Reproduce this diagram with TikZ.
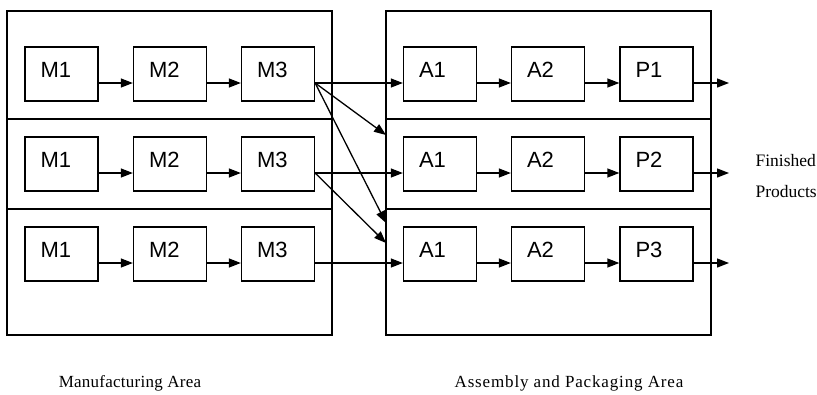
\documentclass[tikz,border=0pt]{standalone}
\usepackage{fontspec}
\setmainfont{Liberation Serif}
\newfontfamily\boxfont{Liberation Sans}
\usetikzlibrary{arrows.meta}
\begin{document}
\begin{tikzpicture}[x=1pt,y=-1pt,
  area/.style={draw,line width=1.3pt,minimum width=325pt,minimum height=324pt,inner sep=0pt},
  divider/.style={line width=1.3pt},
  stage/.style={draw,line width=1.3pt,minimum width=73pt,minimum height=54pt,
    text width=42pt,inner xsep=15.5pt,inner ysep=0pt,align=left,
    font=\boxfont\fontsize{22}{22}\selectfont,text height=10.5pt,text depth=4pt},
  flow/.style={line width=1.3pt,-{Triangle[length=12pt,width=9pt]}},
]
\useasboundingbox (0,0) rectangle (817,394);

% the two areas
\node[area] (L) at (169.5,173) {};
\node[area] (R) at (548.5,173) {};
\coordinate (d1) at (0,119);
\coordinate (d2) at (0,209);
\foreach \d in {d1,d2} {
  \draw[divider] (L.west |- \d) -- (L.east |- \d);
  \draw[divider] (R.west |- \d) -- (R.east |- \d);
}

% three production lines
\foreach \r/\y in {1/74,2/164,3/254} {
  \node[stage] (m1\r) at (61.5,\y) {M1};
  \node[stage] (m2\r) at (170,\y) {M2};
  \node[stage] (m3\r) at (278,\y) {M3};
  \node[stage] (a1\r) at (440,\y) {A1};
  \node[stage] (a2\r) at (548,\y) {A2};
  \node[stage] (p\r) at (656.5,\y) {P\r};
  \coordinate (f\r) at (0,\y+9);
  \coordinate (o\r) at (729,\y+9);
  \draw[flow] (m1\r.east |- f\r) -- (m2\r.west |- f\r);
  \draw[flow] (m2\r.east |- f\r) -- (m3\r.west |- f\r);
  \draw[flow] (m3\r.east |- f\r) -- (a1\r.west |- f\r);
  \draw[flow] (a1\r.east |- f\r) -- (a2\r.west |- f\r);
  \draw[flow] (a2\r.east |- f\r) -- (p\r.west |- f\r);
  \draw[flow] (p\r.east |- f\r) -- (o\r);
}

% cross links between lines
\coordinate (t1) at (386,135);
\coordinate (t2) at (386,223);
\coordinate (t3) at (386,243);
\draw[flow] (m31.east |- f1) -- (t1);
\draw[flow] (m31.east |- f1) -- (t2);
\draw[flow] (m32.east |- f2) -- (t3);

% captions
\node[font=\fontsize{17}{17}\selectfont\addfontfeatures{LetterSpace=1.5}] (ma) at (130,383) {Manufacturing Area};
\node[font=\fontsize{17}{17}\selectfont\addfontfeatures{LetterSpace=5}] (aa) at (569,383) {Assembly and Packaging Area};
\node[anchor=west,align=left,font=\fontsize{17.5}{31}\selectfont] (fp) at (752,176.5) {Finished\\Products};
\end{tikzpicture}
\end{document}
